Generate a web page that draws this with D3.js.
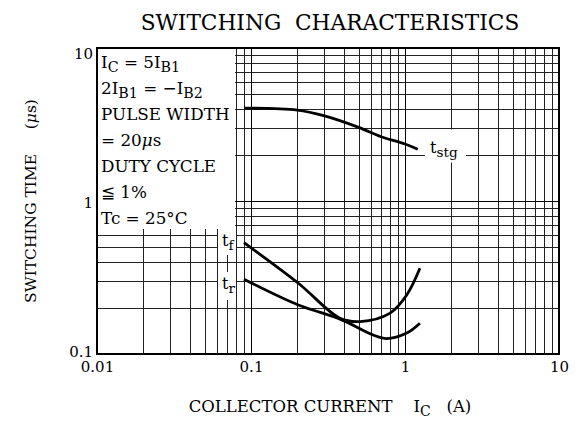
<!DOCTYPE html>
<html><head><meta charset="utf-8">
<script src="https://cdn.jsdelivr.net/npm/d3@7"></script>
<style>
body{margin:0;background:#fff}
svg text{font-family:"DejaVu Serif",serif;fill:#000}
</style>
</head><body>
<svg id="c" width="579" height="424"></svg>
<script>
// ---- data ----
const xTicks = [0.01, 0.1, 1, 10];
const xTickLabels = ["0.01", "0.1", "1", "10"];
const yTicks = [0.1, 1, 10];
const yTickLabels = ["0.1", "1", "10"];

const tstgIc = [0.090, 0.2, 0.3, 0.5, 0.7, 1.0, 1.21];
const tstgT  = [4.05, 3.93, 3.6, 3.03, 2.63, 2.36, 2.18];

const tfIc = [0.090, 0.203, 0.379, 0.511, 0.80, 1.026, 1.25];
const tfT  = [0.534, 0.290, 0.171, 0.163, 0.185, 0.243, 0.363];

const trIc = [0.090, 0.203, 0.379, 0.622, 0.760, 1.026, 1.25];
const trT  = [0.308, 0.209, 0.169, 0.133, 0.126, 0.137, 0.159];

const titleText = "SWITCHING\u00A0\u00A0CHARACTERISTICS";
const conditions = [
  [["I"], ["C", "sub"], [" = 5I"], ["B1", "sub"]],
  [["2I"], ["B1", "sub"], [" = \u2212I"], ["B2", "sub"]],
  [["PULSE WIDTH"]],
  [["= 20"], ["\u03BC", "it"], ["s"]],
  [["DUTY CYCLE"]],
  [["\u2266 1%"]],
  [["Tc = 25\u00B0C"]]
];

// ---- chart ----
const svg = d3.select("#c");
const L = 97, R = 559, T = 48, B = 354;
const x = d3.scaleLog().domain([0.01, 10]).range([L, R]);
const y = d3.scaleLog().domain([0.1, 10]).range([B, T]);

function rich(sel, parts, size) {
  let shifted = false;
  parts.forEach(p => {
    const ts = sel.append("tspan").text(p[0]);
    if (p[1] === "sub") {
      ts.attr("dy", shifted ? 0 : 4).attr("font-size", size * 0.85);
      shifted = true;
    } else {
      if (shifted) ts.attr("dy", -4);
      shifted = false;
      if (p[1] === "it") ts.attr("font-style", "italic");
    }
  });
}

// grid (from axes)
const gx = svg.append("g").attr("transform", `translate(0,${B})`)
  .call(d3.axisBottom(x).tickSize(-(B - T)).tickFormat(""));
const gy = svg.append("g").attr("transform", `translate(${L},0)`)
  .call(d3.axisLeft(y).tickSize(-(R - L)).tickFormat(""));
[gx, gy].forEach(g => {
  g.select(".domain").remove();
  g.selectAll(".tick line").attr("stroke", "#222").attr("stroke-width", 1)
    .attr("shape-rendering", "crispEdges");
});
gx.selectAll(".tick").filter(d => xTicks.includes(+d.toPrecision(3))).select("line").attr("stroke", "#000").attr("stroke-width", 1.6);
gy.selectAll(".tick").filter(d => yTicks.includes(+d.toPrecision(3))).select("line").attr("stroke", "#000").attr("stroke-width", 1.6);

// white boxes behind text
svg.append("rect").attr("x", L).attr("y", T).attr("width", 138).attr("height", 181).attr("fill", "#fff");
svg.append("rect").attr("x", 218).attr("y", 229).attr("width", 18).attr("height", 26).attr("fill", "#fff");
svg.append("rect").attr("x", 218).attr("y", 272).attr("width", 18).attr("height", 28).attr("fill", "#fff");
svg.append("rect").attr("x", 425).attr("y", 129.5).attr("width", 41).attr("height", 33).attr("fill", "#fff");

// curves
const line = d3.line().x(d => x(d[0])).y(d => y(d[1])).curve(d3.curveCatmullRom.alpha(0.5));
[[tstgIc, tstgT], [tfIc, tfT], [trIc, trT]].forEach(([xs, ys]) => {
  svg.append("path").datum(xs.map((v, i) => [v, ys[i]])).attr("d", line)
    .attr("fill", "none").attr("stroke", "#000").attr("stroke-width", 2.8);
});

// frame
svg.append("rect").attr("x", L).attr("y", T).attr("width", R - L).attr("height", B - T)
  .attr("fill", "none").attr("stroke", "#000").attr("stroke-width", 2);

// tick labels
const ax = svg.append("g").attr("transform", `translate(0,${B})`)
  .call(d3.axisBottom(x).tickValues(xTicks).tickSize(0).tickPadding(6)
    .tickFormat((d, i) => xTickLabels[i]));
const ay = svg.append("g").attr("transform", `translate(${L},0)`)
  .call(d3.axisLeft(y).tickValues(yTicks).tickSize(0).tickPadding(4)
    .tickFormat((d, i) => yTickLabels[i]));
[ax, ay].forEach(g => {
  g.select(".domain").remove();
  g.selectAll("text").attr("font-size", 15).attr("font-family", "DejaVu Serif").attr("fill", "#000");
});
ax.selectAll("text").attr("dy", "0.78em");
ay.selectAll("text").attr("dy", (d, i) => i === 2 ? "0.7em" : (i === 0 ? "0.15em" : "0.4em"));

// title
svg.append("text").attr("x", 330).attr("y", 30).attr("text-anchor", "middle")
  .attr("font-size", 21.7).text(titleText);

// conditions
conditions.forEach((parts, i) => {
  const t = svg.append("text").attr("x", 101).attr("y", 68 + i * 26).attr("font-size", 16.8);
  rich(t, parts, 16.8);
});

// curve labels
const lt = svg.append("text").attr("x", 222).attr("y", 246).attr("font-size", 16);
rich(lt, [["t"], ["f", "sub"]], 16);
const lr = svg.append("text").attr("x", 222).attr("y", 289).attr("font-size", 16);
rich(lr, [["t"], ["r", "sub"]], 16);
const ls = svg.append("text").attr("x", 430).attr("y", 153).attr("font-size", 16);
rich(ls, [["t"], ["stg", "sub"]], 16);

// axis titles
const xt = svg.append("text").attr("x", 330).attr("y", 412).attr("text-anchor", "middle").attr("font-size", 16.5);
rich(xt, [["COLLECTOR CURRENT\u00A0\u00A0\u00A0\u00A0I"], ["C", "sub"], ["\u00A0\u00A0\u00A0(A)"]], 16.5);
const yt = svg.append("text").attr("transform", "translate(36,201) rotate(-90)").attr("text-anchor", "middle").attr("font-size", 15.5);
rich(yt, [["SWITCHING TIME\u00A0\u00A0\u00A0\u00A0\u00A0("], ["\u03BC", "it"], ["s)"]], 15.5);
</script>
</body></html>
